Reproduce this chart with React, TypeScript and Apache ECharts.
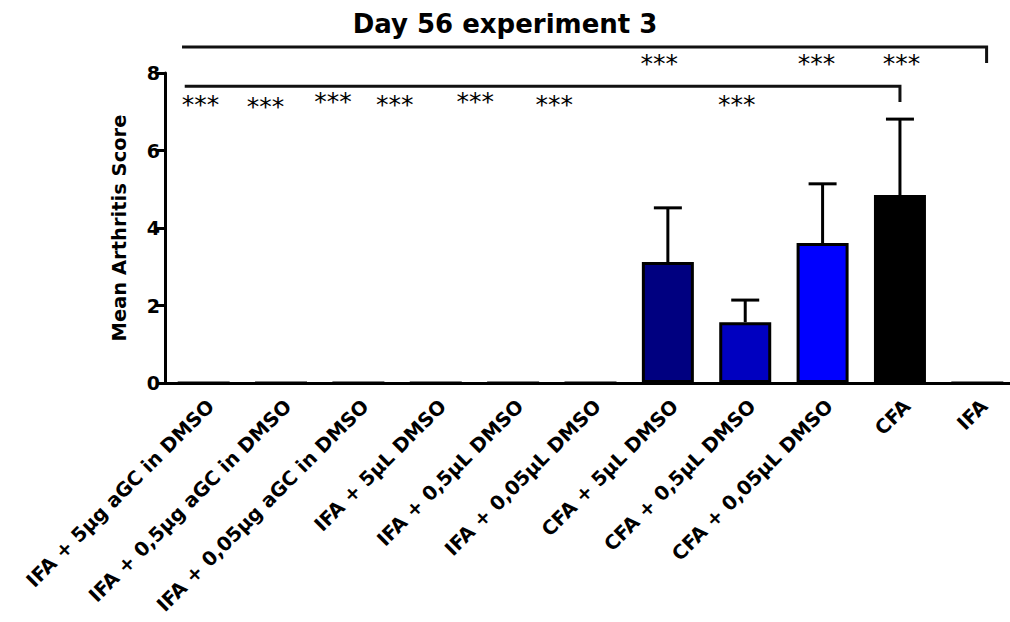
import React, { useEffect, useRef } from "react";
import * as echarts from "echarts";

const categories = [
  "IFA + 5µg aGC in DMSO",
  "IFA + 0,5µg aGC in DMSO",
  "IFA + 0,05µg aGC in DMSO",
  "IFA + 5µL DMSO",
  "IFA + 0,5µL DMSO",
  "IFA + 0,05µL DMSO",
  "CFA + 5µL DMSO",
  "CFA + 0,5µL DMSO",
  "CFA + 0,05µL DMSO",
  "CFA",
  "IFA",
];
const meanScores = [0, 0, 0, 0, 0, 0, 3.12, 1.57, 3.61, 4.85, 0];
const semErrors = [0, 0, 0, 0, 0, 0, 1.4, 0.57, 1.53, 1.96, 0];
const barColors = [
  "#000080", "#000080", "#000080", "#000080", "#000080", "#000080",
  "#000080", "#0000C0", "#0000FF", "#000000", "#000000",
];
const yMin = 0;
const yMax = 8;
const yInterval = 2;

// significance brackets (positions in category units, levels in score units)
const bracketStart = [-0.28, -0.245];
const bracketEnd = [10.12, 9.0];
const bracketLevel = [8.67, 7.66];
const bracketDrop = [8.26, 7.25];

// "***" markers
const starPos = [-0.04, 0.8, 1.67, 2.47, 3.51, 4.53, 6.89, 5.89, 7.92, 9.02];
const starLevel = [7.3, 7.23, 7.38, 7.3, 7.38, 7.3, 7.3, 8.34, 8.34, 8.34];

const FONT = "DejaVu Sans";

export default function App() {
  const ref = useRef<HTMLDivElement>(null);
  useEffect(() => {
    const chart = echarts.init(ref.current!, null, { renderer: "svg" });
    const errData = meanScores
      .map((m, i) => [i, m, semErrors[i]])
      .filter((d) => d[2] > 0);
    chart.setOption({
      animation: false,
      backgroundColor: "#fff",
      title: {
        text: "Day 56 experiment 3",
        left: "center",
        top: 6,
        textStyle: { fontFamily: FONT, fontWeight: "bold", fontSize: 26, color: "#000" },
      },
      grid: {
        left: 165,
        top: 73,
        width: 851,
        height: 310,
        containLabel: false,
        outerBoundsMode: "none",
      },
      xAxis: {
        type: "category",
        data: categories,
        axisLine: { lineStyle: { color: "#000", width: 3 } },
        axisTick: { alignWithLabel: true, length: 9, lineStyle: { color: "#000", width: 3 } },
        axisLabel: {
          rotate: 45,
          margin: 13,
          interval: 0,
          verticalAlign: "top",
          fontFamily: FONT,
          fontWeight: "bold",
          fontSize: 19.5,
          color: "#000",
        },
      },
      yAxis: {
        type: "value",
        min: yMin,
        max: yMax,
        interval: yInterval,
        name: "Mean Arthritis Score",
        nameLocation: "middle",
        nameRotate: 90,
        nameGap: 36,
        nameTextStyle: { fontFamily: FONT, fontWeight: "bold", fontSize: 19.5, color: "#000" },
        splitLine: { show: false },
        axisLine: { show: true, lineStyle: { color: "#000", width: 3 } },
        axisTick: { show: true, length: 9, lineStyle: { color: "#000", width: 3 } },
        axisLabel: { fontFamily: FONT, fontWeight: "bold", fontSize: 19, color: "#000", margin: 5 },
      },
      series: [
        {
          type: "bar",
          barWidth: 52,
          data: meanScores.map((v, i) => ({
            value: v,
            itemStyle: { color: barColors[i], borderColor: "#000", borderWidth: 3 },
          })),
        },
        {
          type: "custom",
          clip: false,
          data: errData,
          renderItem: (params: any, api: any) => {
            const idx = api.value(0);
            const m = api.value(1);
            const e = api.value(2);
            const base = api.coord([idx, m]);
            const top = api.coord([idx, m + e]);
            const half = 14;
            const st = { stroke: "#000", lineWidth: 3 };
            return {
              type: "group",
              children: [
                { type: "line", shape: { x1: base[0], y1: base[1], x2: top[0], y2: top[1] }, style: st },
                { type: "line", shape: { x1: top[0] - half, y1: top[1], x2: top[0] + half, y2: top[1] }, style: st },
              ],
            };
          },
        },
        {
          type: "custom",
          clip: false,
          data: bracketLevel.map((l) => [0, l]),
          renderItem: (params: any, api: any) => {
            const i = params.dataIndex;
            const band = api.size([1, 0])[0];
            const origin = api.coord([0, bracketLevel[i]]);
            const drop = api.coord([0, bracketDrop[i]]);
            const xs = origin[0] + bracketStart[i] * band;
            const xe = origin[0] + bracketEnd[i] * band;
            return {
              type: "polyline",
              shape: { points: [[xs, origin[1]], [xe, origin[1]], [xe, drop[1]]] },
              style: { stroke: "#111", lineWidth: 3, fill: "none" },
            };
          },
        },
        {
          type: "custom",
          clip: false,
          data: starLevel.map((l) => [0, l]),
          renderItem: (params: any, api: any) => {
            const i = params.dataIndex;
            const band = api.size([1, 0])[0];
            const p = api.coord([0, starLevel[i]]);
            return {
              type: "text",
              x: p[0] + starPos[i] * band,
              y: p[1] + 4,
              style: {
                text: "***",
                fontFamily: FONT,
                fontSize: 25,
                fill: "#000",
                align: "center",
                verticalAlign: "middle",
              },
            };
          },
        },
      ],
    });
    return () => chart.dispose();
  }, []);
  return (
    <div
      ref={ref}
      style={{ position: "fixed", left: 0, top: 0, width: 1010, height: 622 }}
    />
  );
}
